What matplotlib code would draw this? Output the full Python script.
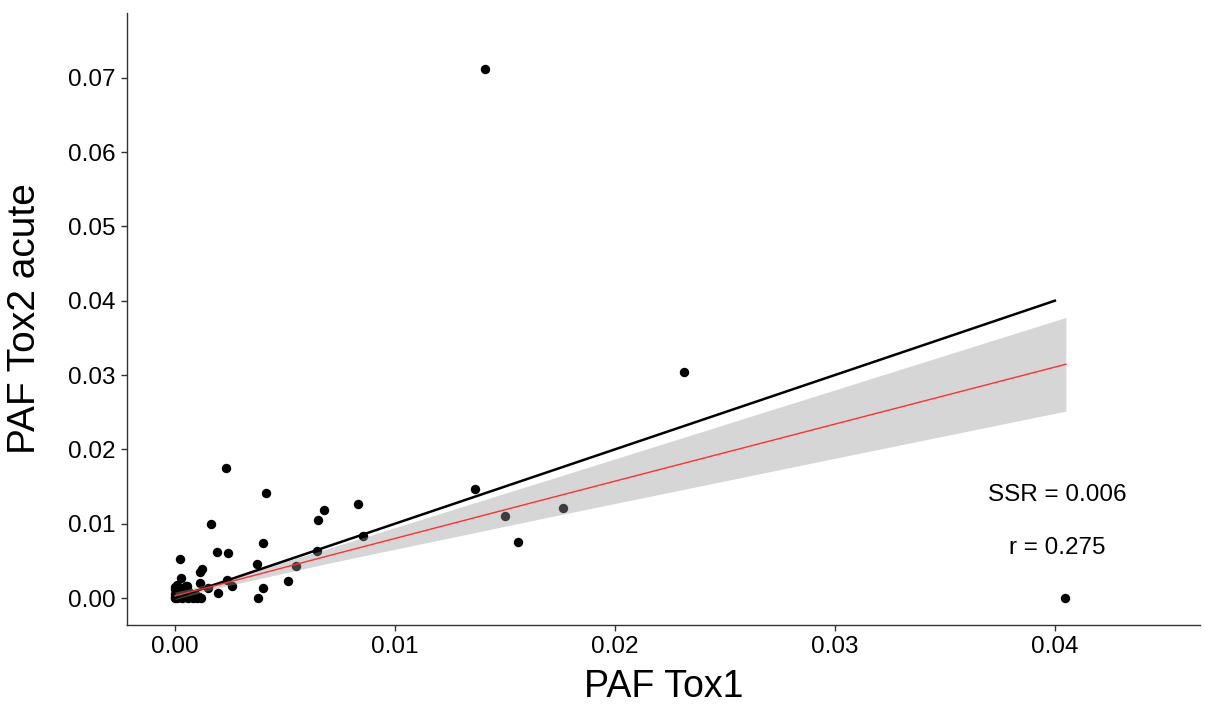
import numpy as np
import matplotlib
matplotlib.use("Agg")
import matplotlib.pyplot as plt

plt.rcParams['font.family'] = ['Liberation Sans', 'DejaVu Sans']

# PAF values
paf_tox1 = [0.01409, 0.02314, 0.01364, 0.01500, 0.01764, 0.01559, 0.04045,
            0.00230, 0.00414, 0.00164, 0.00679, 0.00652, 0.00833, 0.00856,
            0.00644, 0.00548, 0.00399, 0.00192, 0.00240, 0.00371, 0.00023,
            0.00124, 0.00114, 0.00026, 0.00515, 0.00399, 0.00376, 0.00259,
            0.00238, 0.00194, 0.00114, 0.00152, 0.00053,
            0.0000, 0.0001, 0.0000, 0.0002, 0.0001, 0.0000, 0.0003, 0.0004,
            0.0002, 0.0005, 0.0006, 0.0007, 0.0008, 0.0009, 0.0010, 0.0011,
            0.0012, 0.0003, 0.0001, 0.0000, 0.0004, 0.0002, 0.0006, 0.0009,
            0.0005, 0.0001, 0.0000, 0.0003]
paf_tox2 = [0.07120, 0.03040, 0.01467, 0.01104, 0.01211, 0.00754, 0.00000,
            0.01746, 0.01418, 0.00996, 0.01180, 0.01050, 0.01260, 0.00839,
            0.00637, 0.00430, 0.00736, 0.00623, 0.00610, 0.00453, 0.00520,
            0.00390, 0.00350, 0.00270, 0.00224, 0.00134, 0.00000, 0.00166,
            0.00240, 0.00070, 0.00200, 0.00130, 0.00160,
            0.0000, 0.0002, 0.0005, 0.0001, 0.0010, 0.0015, 0.0000, 0.0003,
            0.0008, 0.0001, 0.0000, 0.0004, 0.0000, 0.0002, 0.0000, 0.0001,
            0.0000, 0.0013, 0.0018, 0.0012, 0.0007, 0.0004, 0.0010, 0.0006,
            0.0016, 0.0000, 0.0001, 0.0002]

# fitted regression line and its confidence band
fit_x = [0.0, 0.002, 0.007, 0.0175, 0.03, 0.0405]
fit_y = [0.0003, 0.0018, 0.0057, 0.0138, 0.0234, 0.03145]
fit_hw = [0.0005, 0.0004, 0.0010, 0.0026, 0.0046, 0.0063]

# 1:1 reference line
ref_x = [0.0, 0.04]

ssr_text = "SSR = 0.006"
r_text = "r = 0.275"

fig = plt.figure(figsize=(12.05, 7.08), dpi=100)
ax = fig.add_axes([0.1054, 0.1172, 0.8905, 0.8644])

ax.scatter(paf_tox1, paf_tox2, s=46, color='black', linewidths=0, zorder=2)

lo = np.array(fit_y) - np.array(fit_hw)
hi = np.array(fit_y) + np.array(fit_hw)
ax.fill_between(fit_x, lo, hi, color='#999999', alpha=0.4, linewidth=0, zorder=3)
ax.plot(ref_x, ref_x, color='black', lw=1.8, zorder=4)
ax.plot(fit_x, fit_y, color='#FF3030', lw=1.0, zorder=5)

ax.text(0.0401, 0.0139, ssr_text, fontsize=17.5, ha='center', va='center')
ax.text(0.0401, 0.0067, r_text, fontsize=17.5, ha='center', va='center')

ax.set_xlim(-0.00218, 0.0466)
ax.set_ylim(-0.00363, 0.0787)
ax.set_xticks([0.0, 0.01, 0.02, 0.03, 0.04])
ax.set_xticklabels(['0.00', '0.01', '0.02', '0.03', '0.04'])
ax.set_yticks([0.0, 0.01, 0.02, 0.03, 0.04, 0.05, 0.06, 0.07])
ax.set_yticklabels(['0.00', '0.01', '0.02', '0.03', '0.04', '0.05', '0.06', '0.07'])

for side in ['top', 'right']:
    ax.spines[side].set_visible(False)
for side in ['left', 'bottom']:
    ax.spines[side].set_color('#333333')
    ax.spines[side].set_linewidth(1.0)
ax.tick_params(axis='both', length=4, width=1, color='#333333',
               labelsize=17.5, labelcolor='black', pad=4)

ax.set_xlabel('PAF Tox1', fontsize=27, labelpad=8)
ax.set_ylabel('PAF Tox2 acute', fontsize=28, labelpad=18)

fig.savefig('out.png', dpi=100)
